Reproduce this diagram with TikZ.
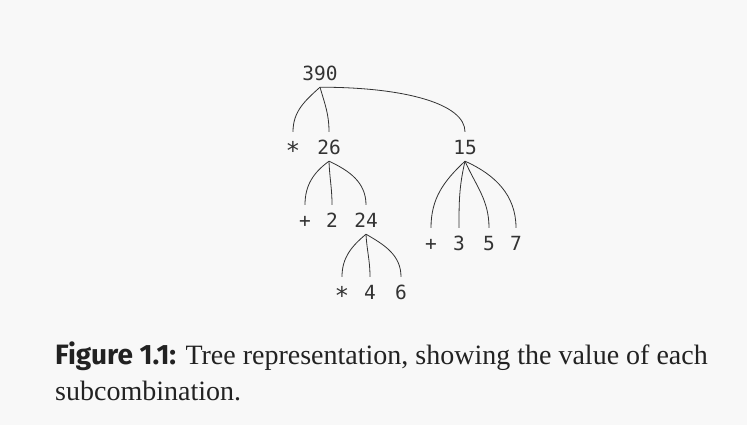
\documentclass[tikz,border=0pt]{standalone}
\usepackage{fontspec}
\setmainfont{Liberation Serif}
\setmonofont{DejaVu Sans Mono}
\newfontfamily\capsans{Fira Sans}
\definecolor{bg}{HTML}{F8F8F8}
\definecolor{ink}{HTML}{333333}
\definecolor{captext}{HTML}{222222}
\newcommand{\lowast}{\raisebox{-5pt}{\scalebox{1.25}{*}}}
\begin{document}
\begin{tikzpicture}[x=1pt,y=1pt,
  lab/.style={font=\fontsize{19.5}{20}\selectfont\ttfamily, text=ink, anchor=base,
              text height=20pt, text depth=3pt, inner xsep=0pt, inner ysep=3pt},
  br/.style={draw=ink, line width=0.8pt},
  captxt/.style={anchor=base west, inner sep=0pt, text=captext,
                 font=\fontsize{28}{32}\selectfont}]
\fill[bg] (0,0) rectangle (747,425);
\useasboundingbox (0,0) rectangle (747,425);
% labels
\node[lab] (n390) at (320,344) {390};
\node[lab] (op1) at (293,270) {\lowast};
\node[lab] (n26) at (329,270) {26};
\node[lab] (n15) at (465,270) {15};
\node[lab] (op2) at (305,197) {+};
\node[lab] (n2) at (332,197) {2};
\node[lab] (n24) at (366,197) {24};
\node[lab] (op3) at (431,174) {+};
\node[lab] (n3) at (459,174) {3};
\node[lab] (n5) at (489,174) {5};
\node[lab] (n7) at (516,174) {7};
\node[lab] (op4) at (342,125) {\lowast};
\node[lab] (n4) at (370,125) {4};
\node[lab] (n6) at (401,125) {6};
% branches
\draw[br] (n390.south) to[out=222,in=90] (op1.north);
\draw[br] (n390.south) to[out=-74,in=90] (n26.north);
\draw[br] (n390.south) .. controls +(85,0) and +(0,28) .. (n15.north);
\draw[br] (n26.south) to[out=216,in=90] (op2.north);
\draw[br] (n26.south) to[out=-88,in=90] (n2.north);
\draw[br] (n26.south) to[out=-25,in=90] (n24.north);
\draw[br] (n24.south) to[out=220,in=90] (op4.north);
\draw[br] (n24.south) to[out=-87,in=90] (n4.north);
\draw[br] (n24.south) to[out=-30,in=90] (n6.north);
\draw[br] (n15.south) to[out=223,in=90] (op3.north);
\draw[br] (n15.south) to[out=257,in=90] (n3.north);
\draw[br] (n15.south) to[out=-66,in=90] (n5.north);
\draw[br] (n15.south) to[out=-24,in=90] (n7.north);
% caption
\node[captxt] (cap1) at (55,60) {{\capsans\bfseries Figure 1.1:} Tree representation, showing the value of each};
\node[captxt] (cap2) at (55,24) {subcombination.};
\end{tikzpicture}
\end{document}
